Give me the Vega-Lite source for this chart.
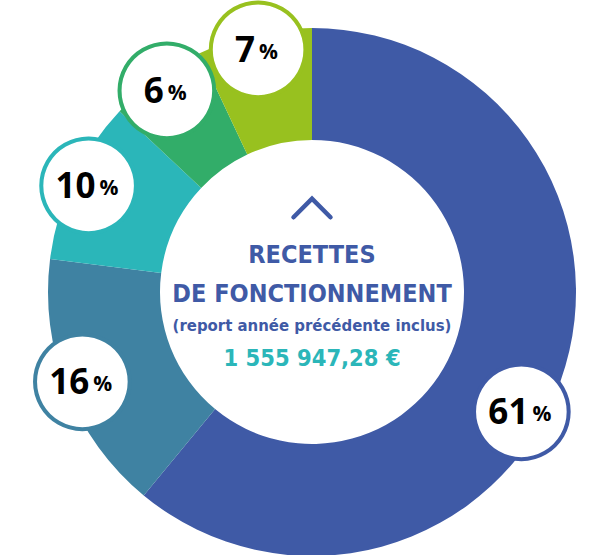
{
  "$schema": "https://vega.github.io/schema/vega-lite/v6.json",
  "width": 624,
  "height": 584,
  "autosize": "none",
  "padding": 0,
  "background": "white",
  "config": {"view": {"stroke": null}},
  "data": {"values": [
    {"cat": "A", "i": 1, "value": 61, "label": "61"},
    {"cat": "B", "i": 2, "value": 16, "label": "16"},
    {"cat": "C", "i": 3, "value": 10, "label": "10"},
    {"cat": "D", "i": 4, "value": 6, "label": "6"},
    {"cat": "E", "i": 5, "value": 7, "label": "7"}
  ]},
  "encoding": {
    "theta": {"field": "value", "type": "quantitative", "stack": true},
    "order": {"field": "i", "type": "quantitative"}
  },
  "layer": [
    {
      "mark": {"type": "arc", "outerRadius": 264, "innerRadius": 152},
      "encoding": {
        "color": {"field": "cat", "type": "nominal", "legend": null,
          "scale": {"domain": ["A", "B", "C", "D", "E"], "range": ["#3f5aa6", "#3f82a2", "#2bb6b9", "#32ad69", "#98c11f"]}}
      }
    },
    {
      "transform": [{"filter": "datum.cat == 'A'"}],
      "mark": {"type": "text", "text": "●", "font": "DejaVu Sans", "fontSize": 124, "radius": 247, "dx": -23, "dy": 31, "fill": "white", "strokeWidth": 4, "align": "center", "baseline": "middle"},
      "encoding": {
        "stroke": {"field": "cat", "type": "nominal", "legend": null,
          "scale": {"domain": ["A", "B", "C", "D", "E"], "range": ["#3f5aa6", "#3f82a2", "#2bb6b9", "#32ad69", "#98c11f"]}}
      }
    },
    {
      "mark": {"type": "text", "text": "●", "font": "DejaVu Sans", "fontSize": 124, "radius": 247, "dy": -6, "fill": "white", "strokeWidth": 4, "align": "center", "baseline": "middle"},
      "encoding": {
        "stroke": {"field": "cat", "type": "nominal", "legend": null,
          "scale": {"domain": ["A", "B", "C", "D", "E"], "range": ["#3f5aa6", "#3f82a2", "#2bb6b9", "#32ad69", "#98c11f"]}},
        "opacity": {"condition": {"test": "datum.cat == 'A'", "value": 0}, "value": 1}
      }
    },
    {
      "transform": [{"filter": "datum.cat == 'A'"}],
      "mark": {"type": "text", "font": "Open Sans", "fontWeight": "bold", "fontSize": 35, "radius": 247, "dx": -16, "dy": 37, "color": "black", "align": "right", "baseline": "middle"},
      "encoding": {"text": {"field": "label"}}
    },
    {
      "transform": [{"filter": "datum.cat == 'A'"}],
      "mark": {"type": "text", "text": "%", "font": "Open Sans", "fontWeight": "bold", "fontSize": 21, "radius": 247, "dx": -12, "dy": 39, "color": "black", "align": "left", "baseline": "middle"}
    },
    {
      "mark": {"type": "text", "font": "Open Sans", "fontWeight": "bold", "fontSize": 35, "radius": 247, "dx": {"expr": "length(datum.label) > 1 ? 7 : -3"}, "color": "black", "align": "right", "baseline": "middle"},
      "encoding": {
        "text": {"field": "label"},
        "opacity": {"condition": {"test": "datum.cat == 'A'", "value": 0}, "value": 1}
      }
    },
    {
      "mark": {"type": "text", "text": "%", "font": "Open Sans", "fontWeight": "bold", "fontSize": 21, "radius": 247, "dx": {"expr": "length(datum.label) > 1 ? 11 : 1"}, "dy": 2, "color": "black", "align": "left", "baseline": "middle"},
      "encoding": {
        "opacity": {"condition": {"test": "datum.cat == 'A'", "value": 0}, "value": 1}
      }
    },
    {
      "data": {"values": [{"k": "chevron"}]},
      "mark": {"type": "point", "shape": "M -1 0.5 L 0 -0.5 L 1 0.5", "size": 1369, "filled": false, "stroke": "#3f5aa6", "strokeWidth": 4.5, "strokeCap": "round", "strokeJoin": "miter", "yOffset": -84, "opacity": 1},
      "encoding": {"theta": null, "order": null}
    },
    {
      "data": {"values": [{"t": "RECETTES"}]},
      "mark": {"type": "text", "font": "DejaVu Sans Condensed, Roboto Condensed, Open Sans Condensed, Liberation Sans Narrow, sans-serif", "fontWeight": "bold", "fontSize": 25, "dy": -29, "color": "#3f5aa6", "align": "center", "baseline": "alphabetic"},
      "encoding": {"text": {"field": "t"}, "theta": null, "order": null}
    },
    {
      "data": {"values": [{"t": "DE FONCTIONNEMENT"}]},
      "mark": {"type": "text", "font": "DejaVu Sans Condensed, Roboto Condensed, Open Sans Condensed, Liberation Sans Narrow, sans-serif", "fontWeight": "bold", "fontSize": 25, "dy": 10, "color": "#3f5aa6", "align": "center", "baseline": "alphabetic"},
      "encoding": {"text": {"field": "t"}, "theta": null, "order": null}
    },
    {
      "data": {"values": [{"t": "(report année précédente inclus)"}]},
      "mark": {"type": "text", "font": "DejaVu Sans Condensed, Roboto Condensed, Open Sans Condensed, Liberation Sans Narrow, sans-serif", "fontWeight": "bold", "fontSize": 16.6, "dy": 39, "color": "#3f5aa6", "align": "center", "baseline": "alphabetic"},
      "encoding": {"text": {"field": "t"}, "theta": null, "order": null}
    },
    {
      "data": {"values": [{"t": "1 555 947,28 €"}]},
      "mark": {"type": "text", "font": "DejaVu Sans Condensed, Roboto Condensed, Open Sans Condensed, Liberation Sans Narrow, sans-serif", "fontWeight": "bold", "fontSize": 23.5, "dy": 74, "color": "#2bb6b9", "align": "center", "baseline": "alphabetic"},
      "encoding": {"text": {"field": "t"}, "theta": null, "order": null}
    }
  ]
}
